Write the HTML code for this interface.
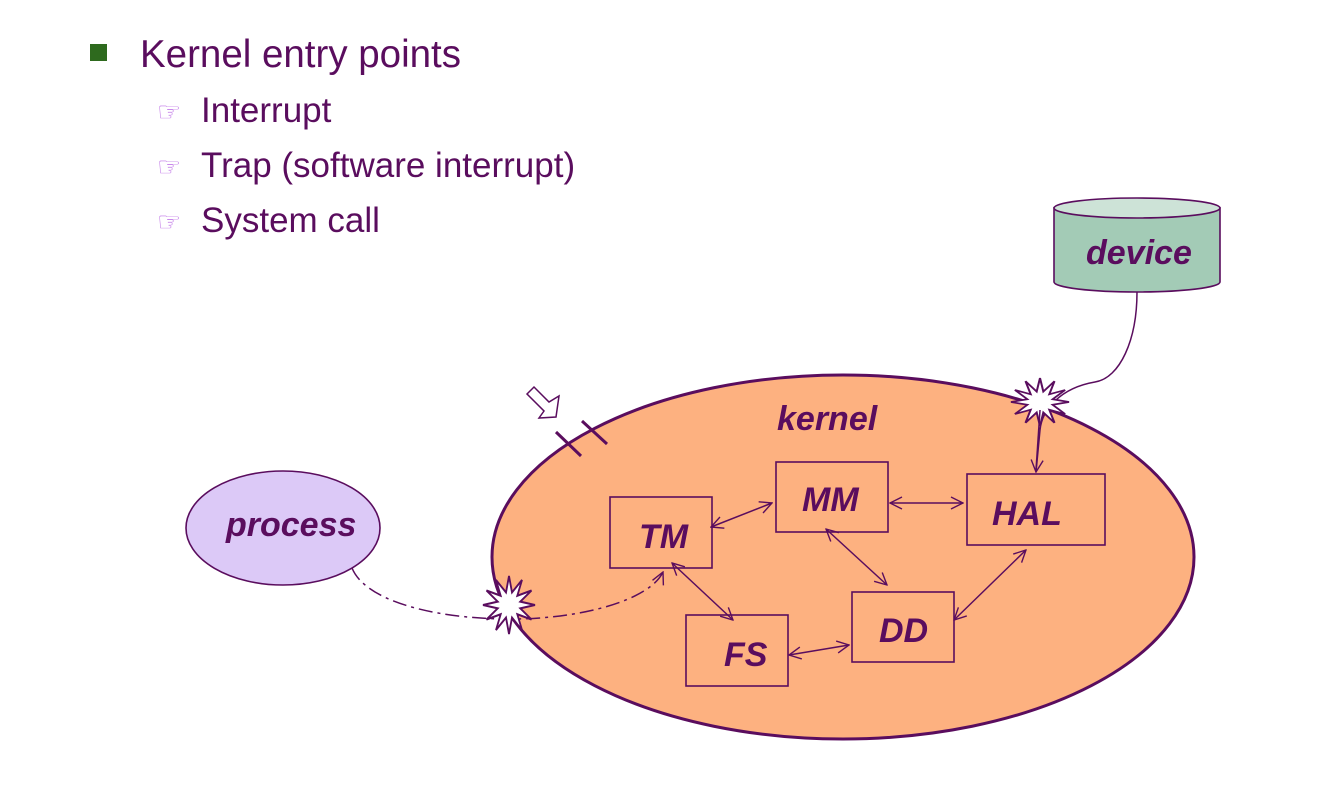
<!DOCTYPE html>
<html><head><meta charset="utf-8"><style>
html,body{margin:0;padding:0;background:#fff;}
svg{display:block;}
</style></head><body>
<svg width="1334" height="796" viewBox="0 0 1334 796" xmlns="http://www.w3.org/2000/svg">
<defs>
<marker id="a" viewBox="0 0 14 14" refX="13" refY="7" markerWidth="14" markerHeight="14" markerUnits="userSpaceOnUse" orient="auto-start-reverse">
<path d="M1,1 L13,7 L1,13" fill="none" stroke="#5a0d5e" stroke-width="1.4"/>
</marker>
<polygon id="star" points="20,0 8.7,2.3 17.3,10 6.4,6.4 10,17.3 2.3,8.7 0,20 -2.3,8.7 -10,17.3 -6.4,6.4 -17.3,10 -8.7,2.3 -20,0 -8.7,-2.3 -17.3,-10 -6.4,-6.4 -10,-17.3 -2.3,-8.7 0,-20 2.3,-8.7 10,-17.3 6.4,-6.4 17.3,-10 8.7,-2.3" fill="#fff" stroke="#5a0d5e" stroke-width="1.4"/>
</defs>
<g font-family="Liberation Sans, sans-serif" fill="#5a0d5e">
<rect x="90" y="44" width="17" height="17" fill="#2e6a1e"/>
<text x="140" y="67" font-size="38.5">Kernel entry points</text>
<text x="157" y="121" font-size="27" fill="#c27ae8">☞</text>
<text x="157" y="176" font-size="27" fill="#c27ae8">☞</text>
<text x="157" y="231" font-size="27" fill="#c27ae8">☞</text>
<text x="201" y="122" font-size="35">Interrupt</text>
<text x="201" y="177" font-size="35">Trap (software interrupt)</text>
<text x="201" y="232" font-size="35">System call</text>
</g>
<path d="M1054,208 L1054,282 A83,10 0 0 0 1220,282 L1220,208 Z" fill="#a3cbb6" stroke="#5a0d5e" stroke-width="1.6"/>
<ellipse cx="1137" cy="208" rx="83" ry="10" fill="#cde3d7" stroke="#5a0d5e" stroke-width="1.6"/>
<text x="1086" y="264" font-family="Liberation Sans, sans-serif" font-size="34" font-weight="bold" font-style="italic" fill="#5a0d5e">device</text>
<ellipse cx="283" cy="528" rx="97" ry="57" fill="#dcc9f7" stroke="#5a0d5e" stroke-width="1.6"/>
<text x="226" y="536" font-family="Liberation Sans, sans-serif" font-size="34" font-weight="bold" font-style="italic" fill="#5a0d5e">process</text>
<ellipse cx="843" cy="557" rx="351" ry="182" fill="#fdb180" stroke="#5a0d5e" stroke-width="3"/>
<text x="777" y="430" font-family="Liberation Sans, sans-serif" font-size="34" font-weight="bold" font-style="italic" fill="#5a0d5e">kernel</text>
<line x1="556" y1="432" x2="581" y2="456" stroke="#5a0d5e" stroke-width="3"/>
<line x1="582" y1="421" x2="607" y2="444" stroke="#5a0d5e" stroke-width="3"/>
<path d="M527,394 L534,387 L549,402 L559,396 L556,417 L539,418 L544,411 Z" fill="#fff" stroke="#5a0d5e" stroke-width="1.5"/>
<g fill="none" stroke="#5a0d5e" stroke-width="1.6">
<rect x="610" y="497" width="102" height="71"/>
<rect x="776" y="462" width="112" height="70"/>
<rect x="967" y="474" width="138" height="71"/>
<rect x="686" y="615" width="102" height="71"/>
<rect x="852" y="592" width="102" height="70"/>
</g>
<g font-family="Liberation Sans, sans-serif" font-size="34" font-weight="bold" font-style="italic" fill="#5a0d5e">
<text x="639" y="548">TM</text>
<text x="802" y="511">MM</text>
<text x="992" y="525">HAL</text>
<text x="724" y="666">FS</text>
<text x="879" y="642">DD</text>
</g>
<g stroke="#5a0d5e" stroke-width="1.5" fill="none" marker-start="url(#a)" marker-end="url(#a)">
<line x1="711" y1="527" x2="772" y2="503"/>
<line x1="890" y1="503" x2="963" y2="503"/>
<line x1="826" y1="529" x2="887" y2="585"/>
<line x1="672" y1="563" x2="733" y2="620"/>
<line x1="789" y1="655" x2="849" y2="645"/>
<line x1="954" y1="620" x2="1026" y2="550"/>
</g>
<path d="M352,568 C365,600 430,618 505,619 C580,620 650,600 663,572" fill="none" stroke="#5a0d5e" stroke-width="1.5" stroke-dasharray="14,5,3,5" marker-end="url(#a)"/>
<use href="#star" transform="translate(509,605) scale(1.3,1.45)"/>
<path d="M1137,292 C1137,340 1120,378 1095,382 C1060,388 1042,410 1040,430 L1036,472" fill="none" stroke="#5a0d5e" stroke-width="1.5" marker-end="url(#a)"/>
<use href="#star" transform="translate(1040,402) scale(1.45,1.2)"/>
<line x1="1040" y1="410" x2="1036" y2="470" stroke="#5a0d5e" stroke-width="1.5"/>
</svg>
</body></html>
